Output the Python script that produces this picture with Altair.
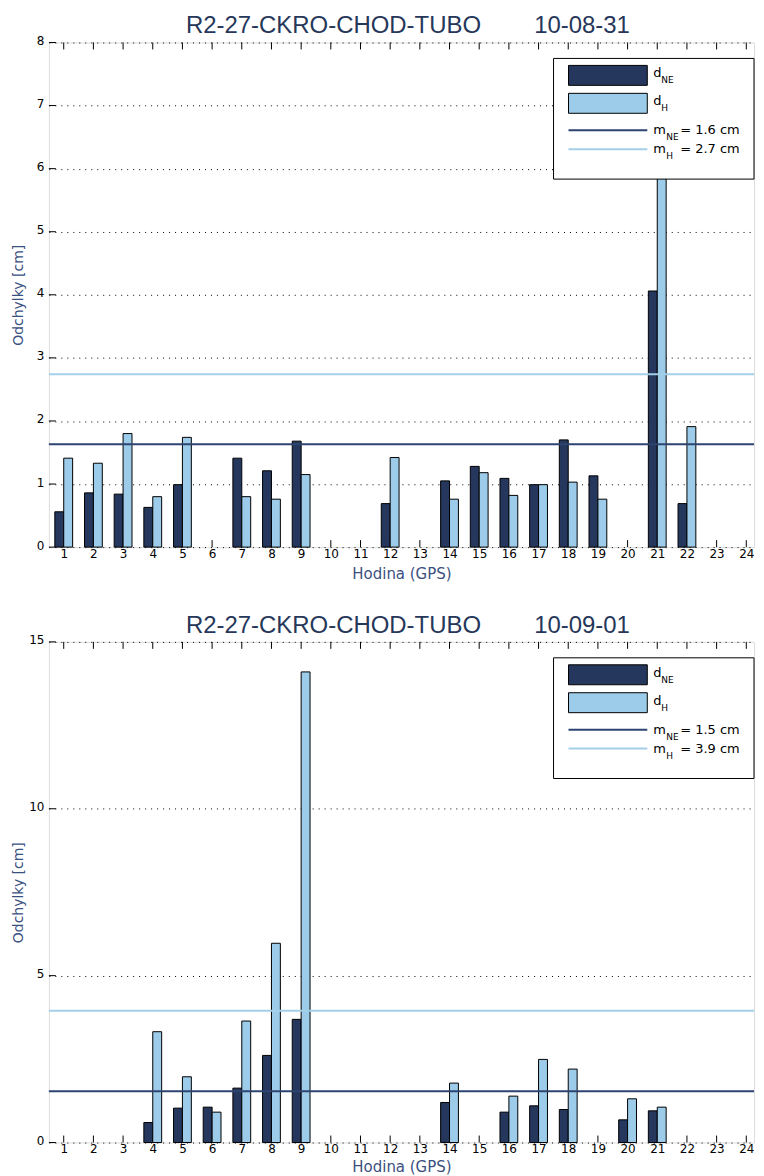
import altair as alt
import pandas as pd

# ---------------- data ----------------
HOURS = list(range(1, 25))

day1_title = "R2-27-CKRO-CHOD-TUBO" + "\u00a0" * 8 + "10-08-31"
day1_hours = [1, 2, 3, 4, 5, 7, 8, 9, 12, 14, 15, 16, 17, 18, 19, 21, 22]
day1_ne = [0.56, 0.86, 0.84, 0.63, 0.99, 1.41, 1.21, 1.68, 0.69, 1.05, 1.28, 1.09, 0.99, 1.70, 1.13, 4.06, 0.69]
day1_h = [1.41, 1.33, 1.80, 0.80, 1.74, 0.80, 0.76, 1.15, 1.42, 0.76, 1.18, 0.82, 0.99, 1.03, 0.76, 6.90, 1.91]
day1_m = [1.63, 2.74]
day1_mlabels = ["= 1.6 cm", "= 2.7 cm"]
day1_yticks = [0, 1, 2, 3, 4, 5, 6, 7, 8]

day2_title = "R2-27-CKRO-CHOD-TUBO" + "\u00a0" * 8 + "10-09-01"
day2_hours = [4, 5, 6, 7, 8, 9, 14, 16, 17, 18, 20, 21]
day2_ne = [0.60, 1.03, 1.06, 1.63, 2.61, 3.69, 1.20, 0.91, 1.10, 0.99, 0.68, 0.95]
day2_h = [3.32, 1.97, 0.91, 3.64, 5.97, 14.10, 1.78, 1.39, 2.49, 2.20, 1.31, 1.06]
day2_m = [1.54, 3.95]
day2_mlabels = ["= 1.5 cm", "= 3.9 cm"]
day2_yticks = [0, 5, 10, 15]

# ---------------- style ----------------
C_NE = "#25375c"
C_H = "#9ccce9"
C_MNE = "#2d4470"
C_MH = "#a3cfe9"
TXT = "#3a5080"
FONT = "DejaVu Sans"
W = 707
X_DOMAIN = [0.5, 24.26]
BAR_W = 0.3
one = pd.DataFrame({"k": [0]})


def panel(title, hrs, ne, h, m, mlabels, yticks, ymax, H, xtitle_pad):
    bars = pd.DataFrame({
        "x0": [v - BAR_W for v in hrs] + hrs,
        "x1": hrs + [v + BAR_W for v in hrs],
        "val": ne + h,
        "series": ["NE"] * len(hrs) + ["H"] * len(hrs),
    })
    ticks_df = pd.DataFrame({"hour": HOURS})
    yt_df = pd.DataFrame({"v": yticks})
    m_df = pd.DataFrame({"m": m, "series": ["NE", "H"]})

    xaxis = alt.Axis(values=HOURS, title="Hodina (GPS)", grid=False, ticks=False, domain=False,
                     labelFont=FONT, labelFontSize=12, labelColor="black", labelPadding=1,
                     labelOverlap=False, labelFlush=False, labelBound=False,
                     titleFont=FONT, titleFontSize=15, titleFontWeight="normal", titleColor=TXT,
                     titlePadding=xtitle_pad)
    yaxis = alt.Axis(values=yticks, format="d", title="Odchylky [cm]", grid=True, gridDash=[1, 5],
                     gridColor="black", gridOpacity=1, ticks=False, domain=False, labelFont=FONT,
                     labelFontSize=12, labelColor="black", labelPadding=5, labelOffset=-2,
                     labelOverlap=False,
                     titleFont=FONT, titleFontSize=14, titleFontWeight="normal", titleColor=TXT,
                     titleX=-30, titleY=H / 2, titleBaseline="middle", titleAlign="center")

    def X(field):
        return alt.X(field, type="quantitative", title="Hodina (GPS)",
                     scale=alt.Scale(domain=X_DOMAIN, nice=False, zero=False), axis=xaxis)

    def Y(field):
        return alt.Y(field, type="quantitative", title="Odchylky [cm]",
                     scale=alt.Scale(domain=[0, ymax], nice=False, zero=True), axis=yaxis)

    base_bars = alt.Chart(bars).mark_rect(stroke="black", strokeWidth=1).encode(
        x=X("x0"),
        x2="x1:Q",
        y=Y("val"),
        y2=alt.datum(0),
        fill=alt.Fill("series:N", scale=alt.Scale(domain=["NE", "H"], range=[C_NE, C_H]), legend=None),
    )

    top_ticks = alt.Chart(ticks_df).mark_rule(color="black", strokeWidth=1).encode(
        x=X("hour"), y=alt.value(0), y2=alt.value(7))
    bot_ticks = alt.Chart(ticks_df).mark_rule(color="black", strokeWidth=1).encode(
        x=X("hour"), y=alt.value(H - 7), y2=alt.value(H))
    y_ticks = alt.Chart(yt_df).mark_rule(color="black", strokeWidth=1).encode(
        y=Y("v"), x=alt.value(0), x2=alt.value(7))

    mlines = alt.Chart(m_df).mark_rule(strokeWidth=2).encode(
        y=Y("m"),
        color=alt.Color("series:N", scale=alt.Scale(domain=["NE", "H"], range=[C_MNE, C_MH]), legend=None),
    )

    def txt(s, x, y, size, font=FONT, color="black", align="left"):
        return alt.Chart(one).mark_text(text=s, font=font, fontSize=size, color=color,
                                        align=align, baseline="alphabetic").encode(
            x=alt.value(x), y=alt.value(y))

    title_mark = txt(title, 360, -9, 24, font="Liberation Sans", color="#26375a", align="center")

    # legend box (decoration, pixel placement)
    dx = -8
    leg = [
        alt.Chart(one).mark_rect(fill="white", stroke="black", strokeWidth=1).encode(
            x=alt.value(514 + dx), x2=alt.value(715 + dx), y=alt.value(16), y2=alt.value(137)),
        alt.Chart(one).mark_rect(fill=C_NE, stroke="black", strokeWidth=1).encode(
            x=alt.value(529 + dx), x2=alt.value(608 + dx), y=alt.value(23), y2=alt.value(43)),
        alt.Chart(one).mark_rect(fill=C_H, stroke="black", strokeWidth=1).encode(
            x=alt.value(529 + dx), x2=alt.value(608 + dx), y=alt.value(51), y2=alt.value(71)),
        alt.Chart(one).mark_rule(color=C_MNE, strokeWidth=2).encode(
            x=alt.value(529 + dx), x2=alt.value(608 + dx), y=alt.value(88)),
        alt.Chart(one).mark_rule(color=C_MH, strokeWidth=2).encode(
            x=alt.value(529 + dx), x2=alt.value(608 + dx), y=alt.value(107)),
    ]
    leg += [
        txt("d", 614 + dx, 35, 13), txt("NE", 622 + dx, 41, 9),
        txt("d", 614 + dx, 63, 13), txt("H", 622 + dx, 69, 9),
        txt("m", 614 + dx, 92, 13), txt("NE", 627 + dx, 98, 9), txt(mlabels[0], 641 + dx, 92, 13),
        txt("m", 614 + dx, 111, 13), txt("H", 627 + dx, 117, 9), txt(mlabels[1], 641 + dx, 111, 13),
    ]

    return alt.layer(top_ticks, bot_ticks, y_ticks, base_bars, mlines, title_mark, *leg).properties(
        width=W, height=H,
    )


p1 = panel(day1_title, day1_hours, day1_ne, day1_h, day1_m, day1_mlabels, day1_yticks, 8, 506, 7)
p2 = panel(day2_title, day2_hours, day2_ne, day2_h, day2_m, day2_mlabels, day2_yticks, 15, 502, 5)

chart = alt.vconcat(p1, p2, spacing=31).properties(
    padding={"left": 3, "top": 4, "right": 0, "bottom": 0}
).configure_view(stroke="black", strokeWidth=1).configure_axisX(labelOverlap=False).configure(
    background="white")

chart.save("out.html", embed_options={"renderer": "svg", "actions": False})
